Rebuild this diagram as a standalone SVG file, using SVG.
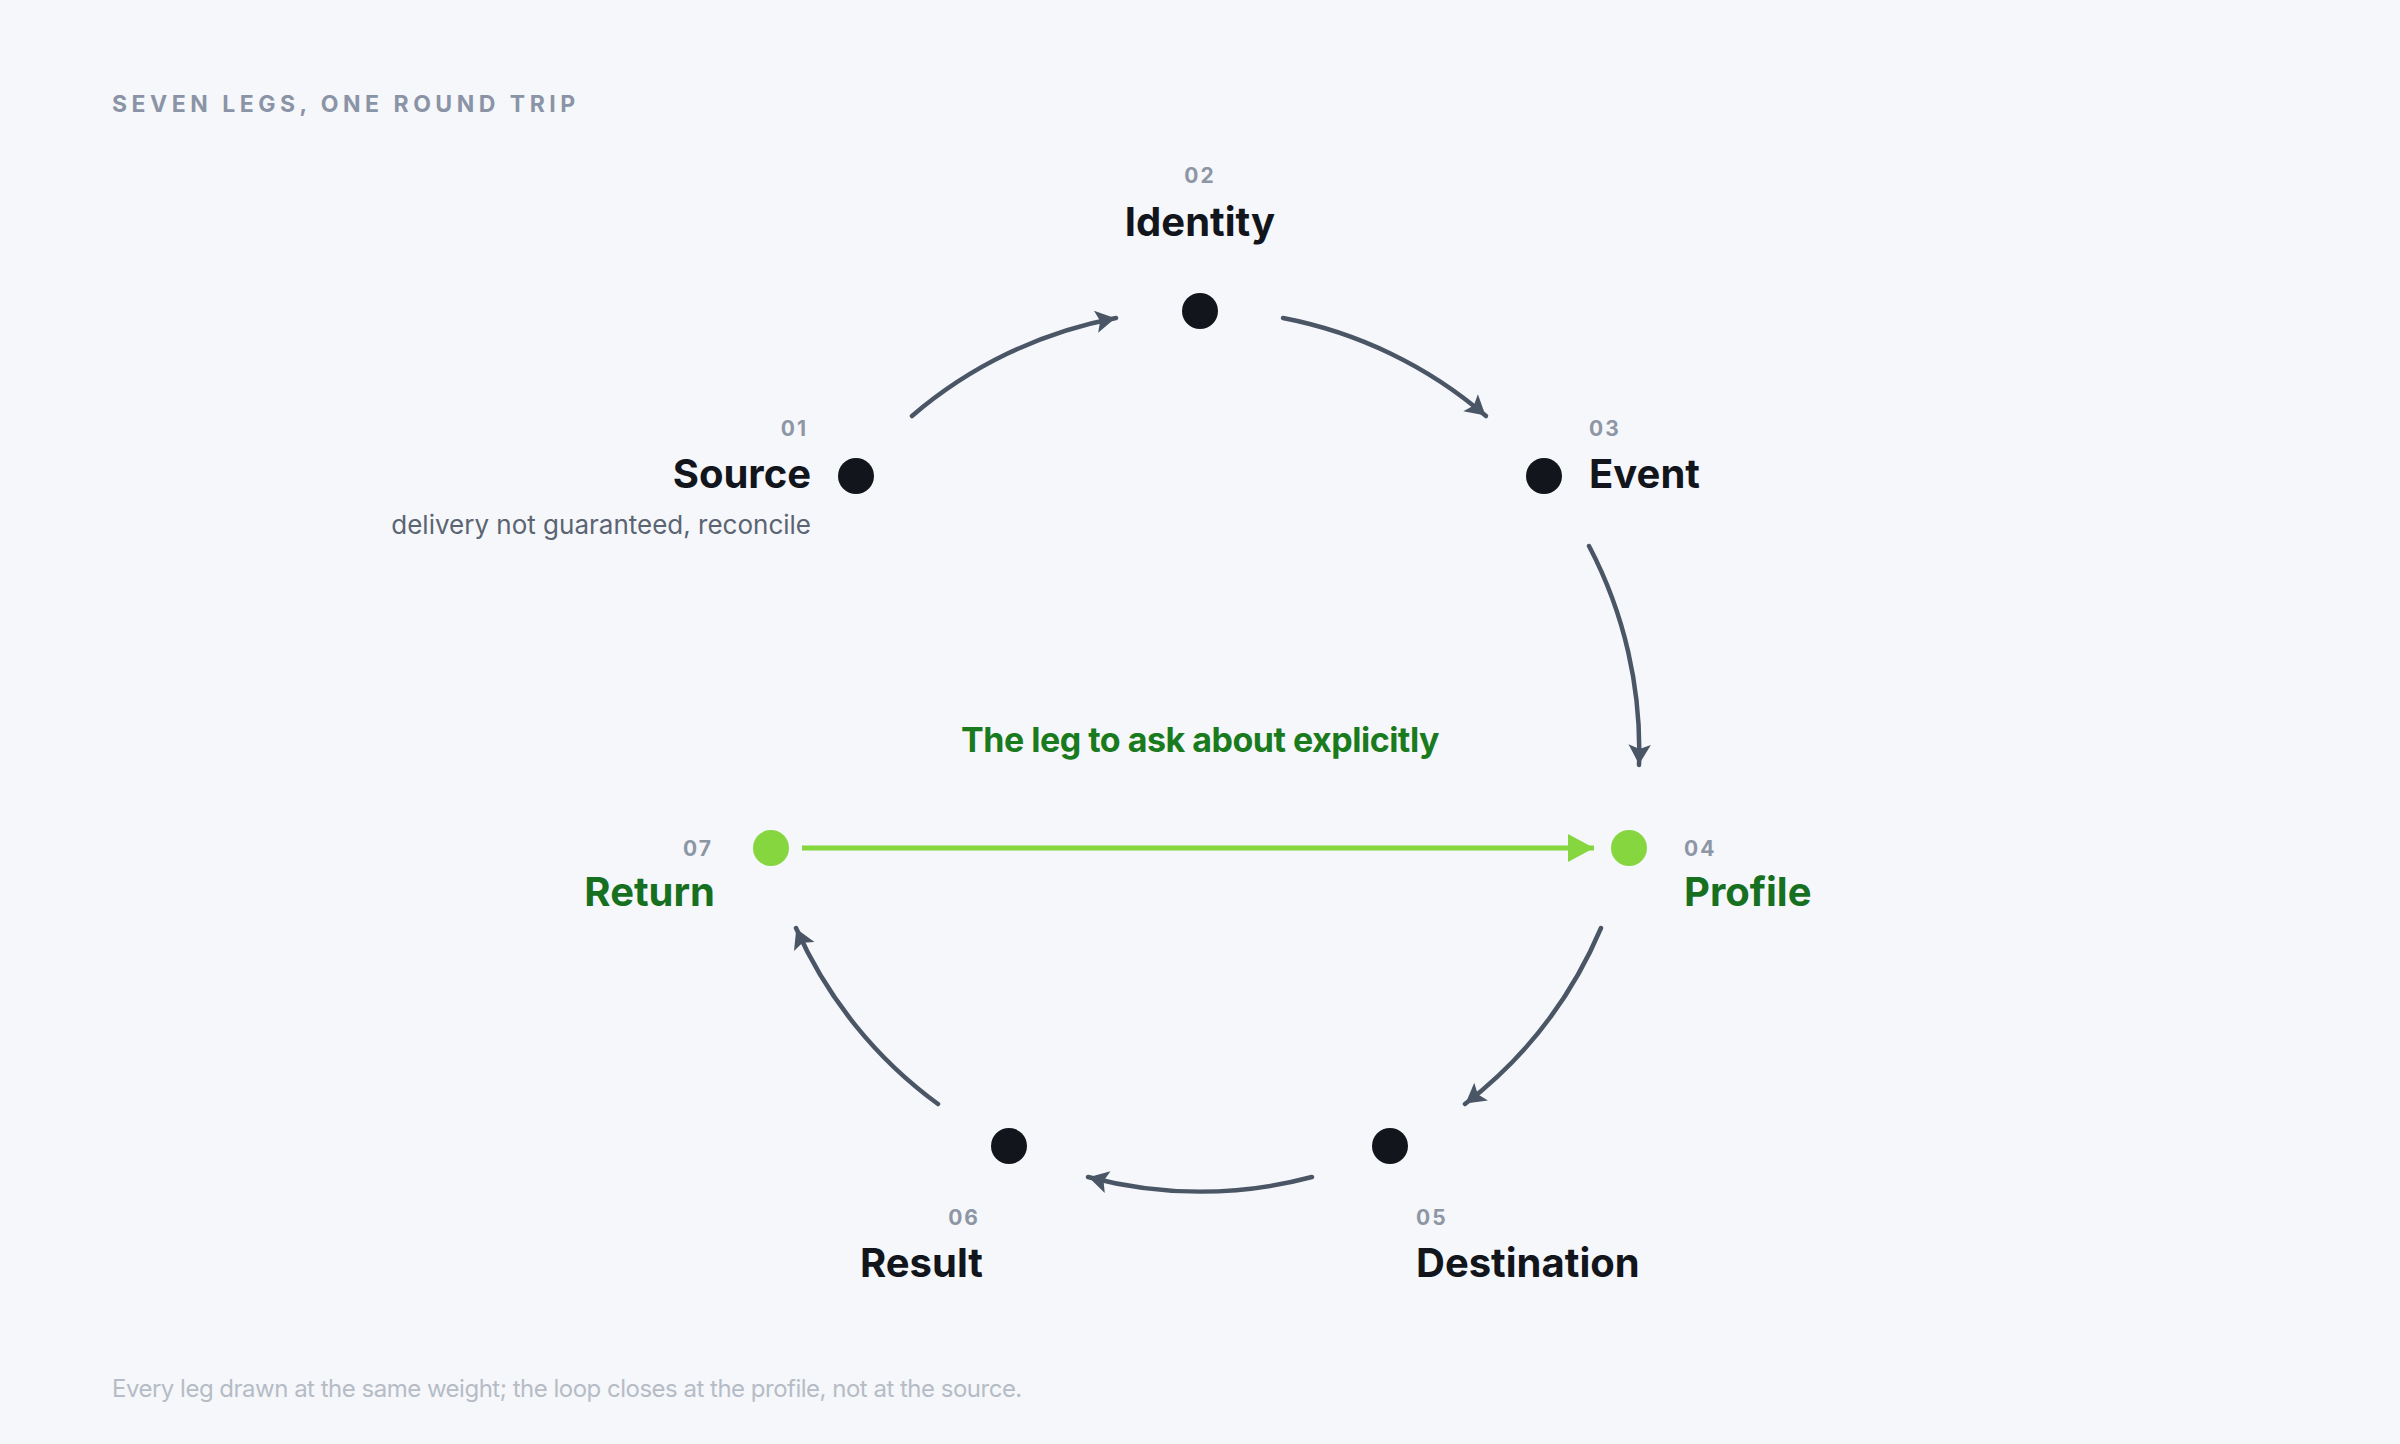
<svg xmlns="http://www.w3.org/2000/svg" width="2400" height="1444" viewBox="0 0 2400 1444">
<style>
.t{font-family:Inter,"Noto Sans",sans-serif}
.num{font-size:21px;font-weight:700;fill:#8d96a5;letter-spacing:2px}
.lbl{font-size:40px;font-weight:700;fill:#12151c}
.g{fill:#17701f}
.arc{fill:none;stroke:#4a5565;stroke-width:4.5;stroke-linecap:round}
</style>
<defs>
<marker id="ah" viewBox="0 0 10 10" refX="9" refY="5" markerWidth="7" markerHeight="7" markerUnits="userSpaceOnUse" orient="auto" overflow="visible">
<path d="M-20,-11 L8,5 L-20,21 L-14,5 Z" fill="#4a5565" transform="scale(1)"/>
</marker>
<marker id="ag" viewBox="0 0 10 10" refX="0" refY="0" markerWidth="10" markerHeight="10" markerUnits="userSpaceOnUse" orient="auto" overflow="visible">
<path d="M-26,-14 L0,0 L-26,14 Z" fill="#86d63f"/>
</marker>
</defs>
<rect width="2400" height="1444" fill="#f5f7fa"/>
<text class="t" x="112" y="112" font-size="23" font-weight="700" fill="#8a94a6" letter-spacing="4.5">SEVEN LEGS, ONE ROUND TRIP</text>
<g id="connectors">
<path class="arc" d="M912,416 A438,438 0 0 1 1116,318" marker-end="url(#ah)"/>
<path class="arc" d="M1283,318 A438,438 0 0 1 1486,416" marker-end="url(#ah)"/>
<path class="arc" d="M1589,546 A438,438 0 0 1 1639,765" marker-end="url(#ah)"/>
<path class="arc" d="M1601,928 A438,438 0 0 1 1465,1104" marker-end="url(#ah)"/>
<path class="arc" d="M1312,1177 A438,438 0 0 1 1088,1177" marker-end="url(#ah)"/>
<path class="arc" d="M938,1104 A438,438 0 0 1 796,928" marker-end="url(#ah)"/>
<line x1="802" y1="848" x2="1594" y2="848" stroke="#86d63f" stroke-width="5" marker-end="url(#ag)"/>
</g>
<g id="n1"><circle cx="856" cy="476" r="18" fill="#12151c"/>
<text class="t num" x="808" y="436" text-anchor="end">01</text>
<text class="t lbl" x="811" y="488" text-anchor="end">Source</text>
<text class="t" x="811" y="534" text-anchor="end" font-size="26" fill="#5b6472">delivery not guaranteed, reconcile</text></g>
<g id="n2"><circle cx="1200" cy="311" r="18" fill="#12151c"/>
<text class="t num" x="1200" y="183" text-anchor="middle">02</text>
<text class="t lbl" x="1200" y="236" text-anchor="middle">Identity</text></g>
<g id="n3"><circle cx="1544" cy="476" r="18" fill="#12151c"/>
<text class="t num" x="1589" y="436">03</text>
<text class="t lbl" x="1589" y="488">Event</text></g>
<g id="n4"><circle cx="1629" cy="848" r="18" fill="#86d63f"/>
<text class="t num" x="1684" y="856">04</text>
<text class="t lbl g" x="1684" y="906">Profile</text></g>
<g id="n5"><circle cx="1390" cy="1146" r="18" fill="#12151c"/>
<text class="t num" x="1416" y="1225">05</text>
<text class="t lbl" x="1416" y="1277">Destination</text></g>
<g id="n6"><circle cx="1009" cy="1146" r="18" fill="#12151c"/>
<text class="t num" x="980" y="1225" text-anchor="end">06</text>
<text class="t lbl" x="983" y="1277" text-anchor="end">Result</text></g>
<g id="n7"><circle cx="771" cy="848" r="18" fill="#86d63f"/>
<text class="t num" x="713" y="856" text-anchor="end">07</text>
<text class="t lbl g" x="715" y="906" text-anchor="end">Return</text></g>
<text class="t" x="1200" y="752" text-anchor="middle" font-size="34" font-weight="700" fill="#1a7a1e" letter-spacing="-0.5">The leg to ask about explicitly</text>
<text class="t" x="112" y="1397" font-size="24" fill="#b6bcc6" letter-spacing="-0.5">Every leg drawn at the same weight; the loop closes at the profile, not at the source.</text>
</svg>
